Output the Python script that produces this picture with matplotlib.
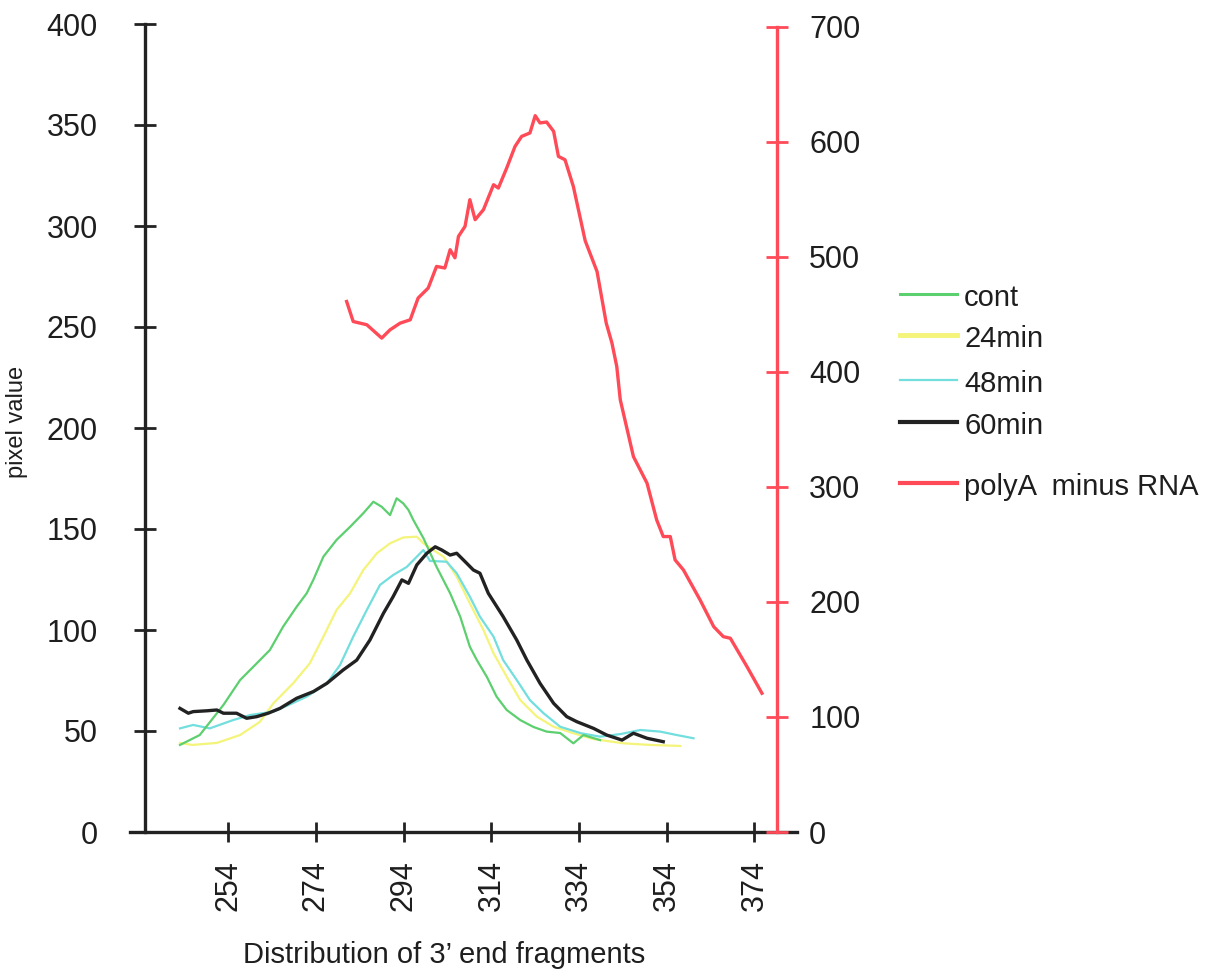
import matplotlib
matplotlib.use("Agg")
import matplotlib.pyplot as plt
from matplotlib.lines import Line2D

plt.rcParams["font.family"] = ["Liberation Sans", "DejaVu Sans"]

# values (fragment size vs pixel value)
cont_x = [243.0, 247.5, 252.9, 256.7, 260.5, 263.5, 266.5, 269.6, 271.9, 273.4,
          275.7, 278.7, 281.8, 284.8, 287.1, 289.0, 290.9, 292.4, 293.9, 295.1,
          296.2, 298.5, 301.5, 304.6, 306.9, 309.1, 310.7, 313.0, 315.2, 317.5,
          320.6, 323.6, 326.6, 329.7, 332.7, 335.0, 338.8]
cont_y = [43.1, 48.0, 62.9, 75.2, 83.5, 90.1, 101.6, 111.5, 118.2, 124.8,
          136.3, 144.6, 151.1, 157.8, 163.5, 161.0, 156.9, 165.2, 162.7, 159.4,
          154.5, 145.5, 131.3, 118.2, 106.6, 91.7, 85.1, 76.7, 67.0, 60.4,
          55.4, 52.0, 49.7, 49.0, 43.9, 48.0, 45.5]

min24_x = [243.0, 245.8, 251.4, 256.7, 261.2, 264.3, 268.8, 272.6, 275.7, 278.7,
           281.8, 284.8, 287.9, 290.9, 293.9, 297.0, 298.5, 303.1, 306.1, 309.1,
           312.2, 314.5, 317.5, 320.6, 324.4, 328.2, 332.7, 337.3, 344.1, 350.2,
           357.1]
min24_y = [44.1, 43.1, 44.1, 48.0, 54.5, 63.7, 73.6, 83.5, 96.7, 109.9,
           118.2, 129.7, 138.0, 142.9, 145.8, 146.2, 142.9, 136.3, 126.4, 113.2,
           100.0, 88.5, 76.9, 65.3, 57.1, 52.1, 48.9, 46.0, 43.9, 43.1,
           42.6]

min48_x = [243.0, 246.0, 249.8, 255.1, 259.0, 264.3, 267.3, 271.9, 276.5, 279.5,
           282.5, 285.6, 288.6, 291.6, 294.7, 298.5, 300.0, 303.8, 306.1, 309.1,
           311.4, 314.5, 316.7, 319.8, 322.8, 325.9, 329.7, 334.4, 338.8, 343.5,
           348.0, 352.5, 356.3, 360.1]
min48_y = [51.3, 53.0, 51.3, 55.4, 57.9, 59.6, 62.4, 67.0, 73.6, 82.7,
           96.7, 109.9, 122.3, 127.2, 131.2, 139.6, 134.2, 133.8, 128.1, 116.5,
           106.6, 96.7, 85.1, 75.2, 65.3, 58.8, 52.1, 48.9, 47.2, 48.5,
           50.5, 49.7, 48.0, 46.4]

min60_x = [243.0, 244.9, 246.0, 249.1, 251.4, 252.9, 255.9, 258.2, 260.5, 263.1,
           265.8, 269.6, 273.4, 276.5, 280.2, 283.3, 286.3, 289.4, 291.6, 293.6,
           295.1, 297.0, 299.3, 301.2, 302.7, 304.6, 306.1, 308.4, 309.9, 311.4,
           313.3, 316.7, 319.8, 322.1, 325.1, 328.2, 331.2, 333.5, 337.3, 340.3,
           343.8, 346.4, 349.5, 353.2]
min60_y = [61.2, 58.8, 59.6, 60.0, 60.4, 58.8, 58.8, 56.3, 57.1, 58.8,
           61.2, 66.2, 69.5, 73.6, 80.2, 85.1, 95.0, 108.3, 116.5, 124.8,
           123.1, 132.2, 138.0, 141.2, 139.6, 137.1, 138.0, 133.0, 129.7, 128.1,
           118.2, 106.6, 95.0, 85.1, 73.6, 63.7, 57.1, 54.6, 51.3, 48.0,
           45.5, 48.9, 46.4, 44.7]

polya_x = [281.0, 282.5, 285.6, 289.0, 290.9, 293.2, 295.5, 297.3, 299.6, 301.5,
           303.4, 304.6, 305.7, 306.5, 308.0, 309.1, 310.3, 312.2, 314.5, 315.6,
           317.5, 319.4, 320.9, 322.8, 324.0, 325.1, 326.6, 328.2, 329.3, 330.8,
           332.7, 335.4, 338.1, 340.2, 341.5, 342.6, 343.4, 346.4, 349.5, 351.7,
           353.2, 354.8, 355.9, 357.8, 361.6, 364.7, 366.9, 368.5, 372.3, 375.7]
polya_y = [461.1, 443.7, 440.9, 429.3, 436.5, 442.3, 445.2, 464.1, 472.8, 491.6,
           490.2, 506.1, 499.1, 517.7, 526.4, 549.6, 532.2, 540.9, 562.6, 559.7,
           577.1, 595.9, 604.6, 607.6, 622.6, 616.3, 617.1, 609.0, 587.2, 584.3,
           561.1, 513.9, 487.2, 442.3, 425.0, 404.6, 375.7, 326.3, 303.2, 271.3,
           256.8, 256.8, 236.5, 227.8, 201.7, 178.5, 169.8, 168.4, 143.7, 120.6]

xticks = [254, 274, 294, 314, 334, 354, 374]
left_ticks = [0, 50, 100, 150, 200, 250, 300, 350, 400]
right_ticks = [0, 100, 200, 300, 400, 500, 600, 700]

GREEN = "#5ccf6e"
YELLOW = "#f4f47a"
CYAN = "#72dede"
BLACK = "#222222"
RED = "#ff4a57"
TEXT = "#1e1e1e"

W, H = 1213, 976
fig = plt.figure(figsize=(W / 100, H / 100), dpi=100)
ax = fig.add_axes([130 / W, 1 - 832 / H, 667 / W, 808 / H])
ax2 = ax.twinx()

ax.plot(min24_x, min24_y, color=YELLOW, lw=1.6)
ax.plot(min48_x, min48_y, color=CYAN, lw=1.6)
ax.plot(cont_x, cont_y, color=GREEN, lw=1.6)
ax.plot(min60_x, min60_y, color=BLACK, lw=2.4)
ax2.plot(polya_x, polya_y, color=RED, lw=2.4)

ax.set_xlim(231.6, 383.7)
ax.set_ylim(0, 400)
ax2.set_ylim(0, 702.3)

for s in ["top", "right"]:
    ax.spines[s].set_visible(False)
for s in ["top", "left", "bottom"]:
    ax2.spines[s].set_visible(False)
ax.spines["left"].set_position(("data", 235.0))
ax.spines["left"].set_linewidth(2.4)
ax.spines["left"].set_color(BLACK)
ax.spines["bottom"].set_linewidth(2.4)
ax.spines["bottom"].set_color(BLACK)
ax2.spines["right"].set_position(("data", 379.2))
ax2.spines["right"].set_bounds(0, 700)
ax2.spines["right"].set_linewidth(2.4)
ax2.spines["right"].set_color(RED)

ax.set_xticks(xticks)
ax.set_xticklabels([str(t) for t in xticks], rotation=90, fontsize=22, color=TEXT)
ax.tick_params(axis="x", direction="inout", length=14, width=2, color=BLACK, pad=13)
ax.set_yticks(left_ticks)
ax.set_yticklabels([str(t) for t in left_ticks], fontsize=22, color=TEXT)
ax.tick_params(axis="y", direction="inout", length=16, width=2, color=BLACK, pad=26)
ax2.set_yticks(right_ticks)
ax2.set_yticklabels([str(t) for t in right_ticks], fontsize=22, color=TEXT)
ax2.tick_params(axis="y", direction="inout", length=16, width=2, color=RED, pad=15)

ax.set_xlabel("Distribution of 3\u2019 end fragments", fontsize=21, color=TEXT)
ax.xaxis.set_label_coords((444 - 130) / 667, (832 - 941) / 808)
ax.set_ylabel("pixel value", fontsize=17, color=TEXT)
ax.yaxis.set_label_coords((28 - 130) / 667, (832 - 422) / 808)

# legend drawn by hand to keep the uneven spacing of the original
legend = [("cont", GREEN, 2.2, 294), ("24min", YELLOW, 3.5, 335),
          ("48min", CYAN, 1.6, 380), ("60min", BLACK, 3.0, 422),
          ("polyA  minus RNA", RED, 3.0, 483)]
for label, col, lw, ypx in legend:
    fig.add_artist(Line2D([900 / W, 957 / W], [1 - ypx / H, 1 - ypx / H],
                          color=col, lw=lw, transform=fig.transFigure))
    fig.text(964 / W, 1 - (ypx + 4) / H, label, fontsize=21, va="center",
             ha="left", color=TEXT)

fig.savefig("out.png", dpi=100)
